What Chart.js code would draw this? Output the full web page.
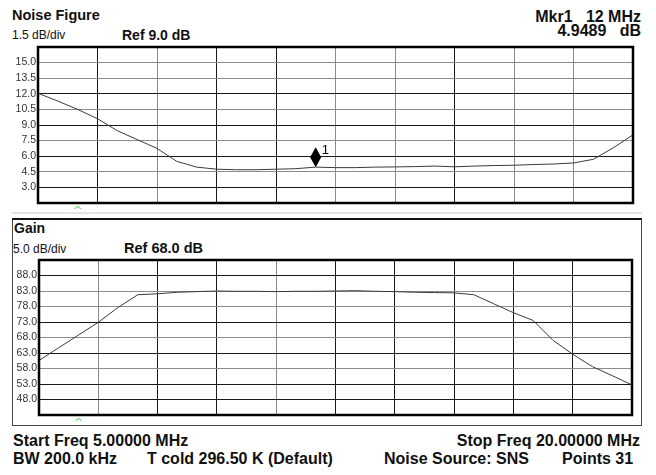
<!DOCTYPE html>
<html>
<head>
<meta charset="utf-8">
<script src="https://cdn.jsdelivr.net/npm/chart.js@4"></script>
<style>
  body { margin: 0; background: #fff; }
  #page { position: relative; width: 656px; height: 475px; overflow: hidden; background: #fff;
          font-family: "Liberation Sans", Arial, sans-serif; color: #111; }
  .t { position: absolute; white-space: pre; }
  .b { font-weight: bold; }
  canvas { position: absolute; left: 0; }
  #sep { position: absolute; left: 12px; top: 212px; width: 630px; height: 2px; background: #e4e4e4; }
  #gainFrame { position: absolute; left: 12px; top: 218px; width: 628px; height: 205px;
               border: 1px solid #444; border-top: 2px solid #111; }
</style>
</head>
<body>
<div id="page">
  <div id="sep"></div>
  <div id="gainFrame"></div>

  <div class="t b" style="left:12px; top:8px; font-size:14.5px; line-height:14.5px;">Noise Figure</div>
  <div class="t" style="left:12px; top:29px; font-size:12px; line-height:12px;">1.5 dB/div</div>
  <div class="t b" style="left:122px; top:27.5px; font-size:14px; line-height:14px;">Ref 9.0 dB</div>
  <div class="t b" style="right:15px; top:9px; font-size:16px; line-height:16px; text-align:right;">Mkr1   12 MHz</div>
  <div class="t b" style="right:15px; top:22.5px; font-size:16px; line-height:16px; text-align:right;">4.9489   dB</div>

  <div class="t b" style="left:14px; top:221px; font-size:14px; line-height:14px;">Gain</div>
  <div class="t" style="left:13px; top:242.5px; font-size:12px; line-height:12px;">5.0 dB/div</div>
  <div class="t b" style="left:124px; top:240.5px; font-size:14.5px; line-height:14.5px;">Ref 68.0 dB</div>

  <div class="t b" style="left:13px; top:433px; font-size:16px; line-height:16px;">Start Freq 5.00000 MHz</div>
  <div class="t b" style="right:16px; top:433px; font-size:16px; line-height:16px;">Stop Freq 20.00000 MHz</div>
  <div class="t b" style="left:13px; top:451px; font-size:16px; line-height:16px;">BW 200.0 kHz</div>
  <div class="t b" style="left:147px; top:451px; font-size:16px; line-height:16px;">T cold 296.50 K (Default)</div>
  <div class="t b" style="left:384px; top:451px; font-size:16px; line-height:16px;">Noise Source: SNS</div>
  <div class="t b" style="left:562px; top:451px; font-size:16px; line-height:16px;">Points 31</div>

  <canvas id="nfChart" width="656" height="215" style="top:0px;"></canvas>
  <canvas id="gainChart" width="656" height="210" style="top:215px;"></canvas>
</div>

<script>
// sweep: 31 points from 5 to 20 MHz
const freqs = [5.0, 5.5, 6.0, 6.5, 7.0, 7.5, 8.0, 8.5, 9.0, 9.5, 10.0, 10.5, 11.0, 11.5, 12.0, 12.5,
               13.0, 13.5, 14.0, 14.5, 15.0, 15.5, 16.0, 16.5, 17.0, 17.5, 18.0, 18.5, 19.0, 19.5, 20.0];

// noise figure (dB)
const noiseFigure = [12.05, 11.3, 10.5, 9.6, 8.45, 7.6, 6.75, 5.5, 4.95, 4.75, 4.7, 4.7, 4.75, 4.8, 4.95, 4.9,
                     4.9, 4.95, 4.97, 5.0, 5.05, 4.98, 5.05, 5.1, 5.13, 5.2, 5.25, 5.35, 5.7, 6.8, 8.05];

// gain (dB)
const gain = [60.6, 64.7, 68.8, 72.9, 77.7, 81.8, 82.1, 82.6, 82.8, 83.0, 82.9, 82.9, 82.8, 82.9, 82.9, 83.0,
              83.1, 82.9, 82.8, 82.6, 82.5, 82.4, 81.8, 78.9, 76.0, 73.5, 67.1, 62.6, 58.6, 55.7, 52.7];

// scale settings (10 divisions each)
const nfScale = { min: 1.5, max: 16.5, step: 1.5 };
const gainScale = { min: 43, max: 93, step: 5 };
const freqScale = { min: 5, max: 20, step: 1.5 };

// marker 1
const markerFreq = 12;
const markerValue = 4.9489;
const noiseSourceFreq = 6;

const DARK = '#1a1a1a';
const GRAY = '#8c8c8c';

const frameBorder = {
    id: 'frameBorder',
    afterDatasetsDraw(chart, args, opts) {
        const { ctx, chartArea: a, scales } = chart;
        ctx.save();
        ctx.strokeStyle = '#000';
        ctx.lineWidth = 2.5;
        ctx.strokeRect(a.left, a.top, a.right - a.left, a.bottom - a.top);

        // little green caret under the axis
        const gx = scales.x.getPixelForValue(noiseSourceFreq);
        ctx.strokeStyle = '#33cc33';
        ctx.lineWidth = 1;
        ctx.beginPath();
        ctx.moveTo(gx - 3, a.bottom + 6);
        ctx.lineTo(gx, a.bottom + 3);
        ctx.lineTo(gx + 3, a.bottom + 6);
        ctx.stroke();

        if (opts.marker) {
            const mx = scales.x.getPixelForValue(opts.marker.x);
            const my = scales.y.getPixelForValue(opts.marker.y);
            ctx.fillStyle = '#000';
            ctx.beginPath();
            ctx.moveTo(mx, my);
            ctx.lineTo(mx + 5.5, my - 10);
            ctx.lineTo(mx, my - 20);
            ctx.lineTo(mx - 5.5, my - 10);
            ctx.closePath();
            ctx.fill();
            ctx.font = '13px "Liberation Sans", Arial, sans-serif';
            ctx.textBaseline = 'alphabetic';
            ctx.fillText('1', mx + 6, my - 13.5);
        }
        ctx.restore();
    }
};

function makeChart(canvasId, values, yCfg, opts) {
    const ctx = document.getElementById(canvasId).getContext('2d');
    return new Chart(ctx, {
        type: 'line',
        data: {
            datasets: [{
                data: freqs.map((f, i) => ({ x: f, y: values[i] })),
                borderColor: '#3a3a3a',
                borderWidth: 1,
                pointRadius: 0,
                tension: 0,
                fill: false
            }]
        },
        options: {
            responsive: false,
            animation: false,
            events: [],
            layout: { padding: opts.padding },
            plugins: {
                legend: { display: false },
                tooltip: { enabled: false },
                frameBorder: { marker: opts.marker || null }
            },
            scales: {
                x: {
                    type: 'linear',
                    min: freqScale.min,
                    max: freqScale.max,
                    ticks: { stepSize: freqScale.step, display: false },
                    grid: { drawTicks: false, color: opts.xGrid, lineWidth: 1 },
                    border: { display: false },
                    afterFit: s => { s.height = 0; }
                },
                y: {
                    min: yCfg.min,
                    max: yCfg.max,
                    ticks: {
                        stepSize: yCfg.step,
                        autoSkip: false,
                        padding: 2,
                        color: '#333',
                        font: { family: '"Liberation Sans", Arial, sans-serif', size: 10.5 },
                        callback: v => (v === yCfg.min || v === yCfg.max) ? '' : v.toFixed(1)
                    },
                    grid: { drawTicks: false, color: opts.yGrid, lineWidth: 1 },
                    border: { display: false },
                    afterFit: s => { s.width = opts.axisWidth; }
                }
            }
        },
        plugins: [frameBorder]
    });
}

makeChart('nfChart', noiseFigure, nfScale, {
    padding: { left: 0, top: 47, right: 23, bottom: 12 },
    axisWidth: 38,
    xGrid: [DARK, DARK, GRAY, DARK, DARK, GRAY, GRAY, DARK, GRAY, GRAY, DARK],
    yGrid: [DARK, DARK, GRAY, DARK, GRAY, DARK, GRAY, DARK, GRAY, GRAY, DARK],
    marker: { x: markerFreq, y: markerValue }
});

makeChart('gainChart', gain, gainScale, {
    padding: { left: 0, top: 45, right: 24, bottom: 10 },
    axisWidth: 39,
    xGrid: [DARK, GRAY, DARK, DARK, GRAY, DARK, DARK, DARK, DARK, DARK, DARK],
    yGrid: [DARK, DARK, DARK, GRAY, DARK, GRAY, DARK, GRAY, GRAY, DARK, DARK]
});
</script>
</body>
</html>
